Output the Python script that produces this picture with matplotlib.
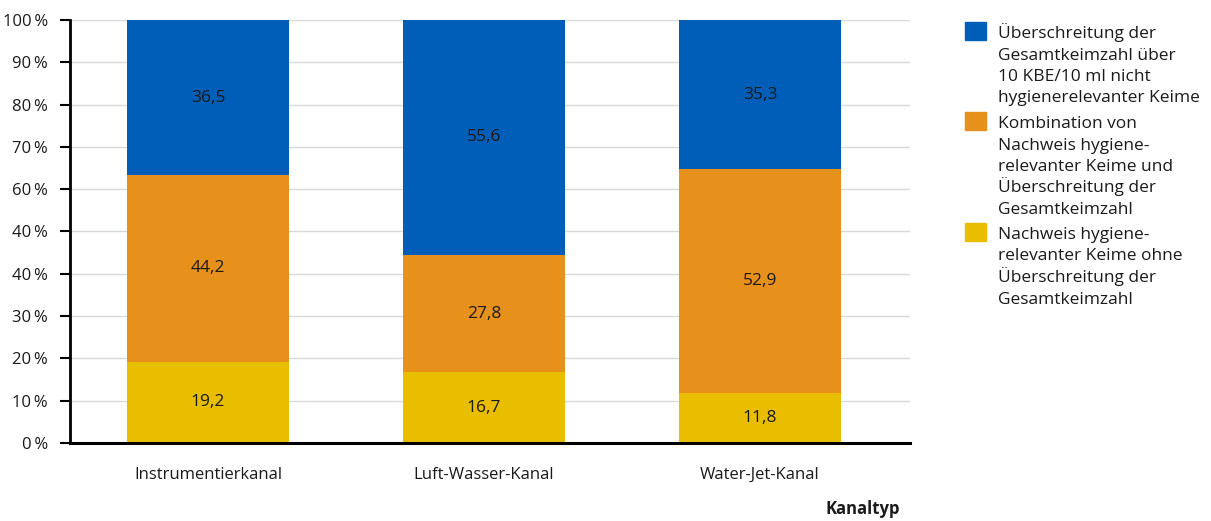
import matplotlib.pyplot as plt
import numpy as np

plt.rcParams['font.family'] = ['Open Sans', 'DejaVu Sans']

categories = ['Instrumentierkanal', 'Luft-Wasser-Kanal', 'Water-Jet-Kanal']
nur_hygiene = [19.2, 16.7, 11.8]
kombination = [44.2, 27.8, 52.9]
gesamtkeimzahl = [36.5, 55.6, 35.3]
yticks = [0, 10, 20, 30, 40, 50, 60, 70, 80, 90, 100]
ytick_labels = ['0\u2009%', '10\u2009%', '20\u2009%', '30\u2009%', '40\u2009%', '40\u2009%',
                '60\u2009%', '70\u2009%', '80\u2009%', '90\u2009%', '100\u2009%']
legend_labels = [
    ['Überschreitung der', 'Gesamtkeimzahl über', '10 KBE/10 ml nicht', 'hygienerelevanter Keime'],
    ['Kombination von', 'Nachweis hygiene-', 'relevanter Keime und', 'Überschreitung der', 'Gesamtkeimzahl'],
    ['Nachweis hygiene-', 'relevanter Keime ohne', 'Überschreitung der', 'Gesamtkeimzahl'],
]

c_blue = '#005EB8'
c_orange = '#E8901C'
c_yellow = '#EABE00'
txt = '#1a1a1a'

fig = plt.figure(figsize=(12.11, 5.21), dpi=100)
ax = fig.add_axes([70 / 1211, 1 - 443 / 521, 840 / 1211, 423 / 521])

x = np.arange(len(categories))
w = 0.587
series = [(nur_hygiene, c_yellow), (kombination, c_orange), (gesamtkeimzahl, c_blue)]
bottom = np.zeros(len(categories))
for vals, col in series:
    vals = np.array(vals)
    top = np.minimum(bottom + vals, 100)
    ax.bar(x, top - bottom, w, bottom=bottom, color=col, zorder=2)
    for xi, b, v, t in zip(x, bottom, vals, top):
        ax.text(xi, (b + t) / 2, f'{v:.1f}'.replace('.', ','), ha='center', va='center',
                fontsize=12.5, color=txt, zorder=3)
    bottom = bottom + vals

ax.set_xlim(-0.5, 2.543)
ax.set_ylim(0, 100)
ax.set_yticks(yticks)
ax.set_yticklabels(ytick_labels, fontsize=12, color=txt)
ax.set_xticks(x)
ax.set_xticklabels(categories, fontsize=12, color=txt)
ax.yaxis.grid(True, color='#d9d9d9', linewidth=1, zorder=0)
ax.set_axisbelow(True)
for s in ['top', 'right']:
    ax.spines[s].set_visible(False)
ax.spines['left'].set_linewidth(2)
ax.spines['bottom'].set_linewidth(2.2)
ax.tick_params(axis='y', length=7, width=1.5, pad=9, color='black')
ax.tick_params(axis='x', length=0, pad=17)

fig.text(900 / 1211, 1 - 509 / 521, 'Kanaltyp', ha='right', va='center',
         fontsize=12, fontweight='bold', color=txt)

# legend drawn by hand, one text line at a time so umlauts don't shift spacing
leg_cols = [c_blue, c_orange, c_yellow]
leg_tops = [22, 112, 223]
line_h = 21.5
for lines, col, t in zip(legend_labels, leg_cols, leg_tops):
    fig.patches.append(plt.Rectangle((965 / 1211, 1 - (t + 18) / 521), 21 / 1211, 18 / 521,
                                     transform=fig.transFigure, color=col))
    for i, line in enumerate(lines):
        fig.text(998 / 1211, 1 - (t + 16 + i * line_h) / 521, line, ha='left', va='baseline',
                 fontsize=12.5, color=txt)

fig.savefig('out.png', dpi=100)
